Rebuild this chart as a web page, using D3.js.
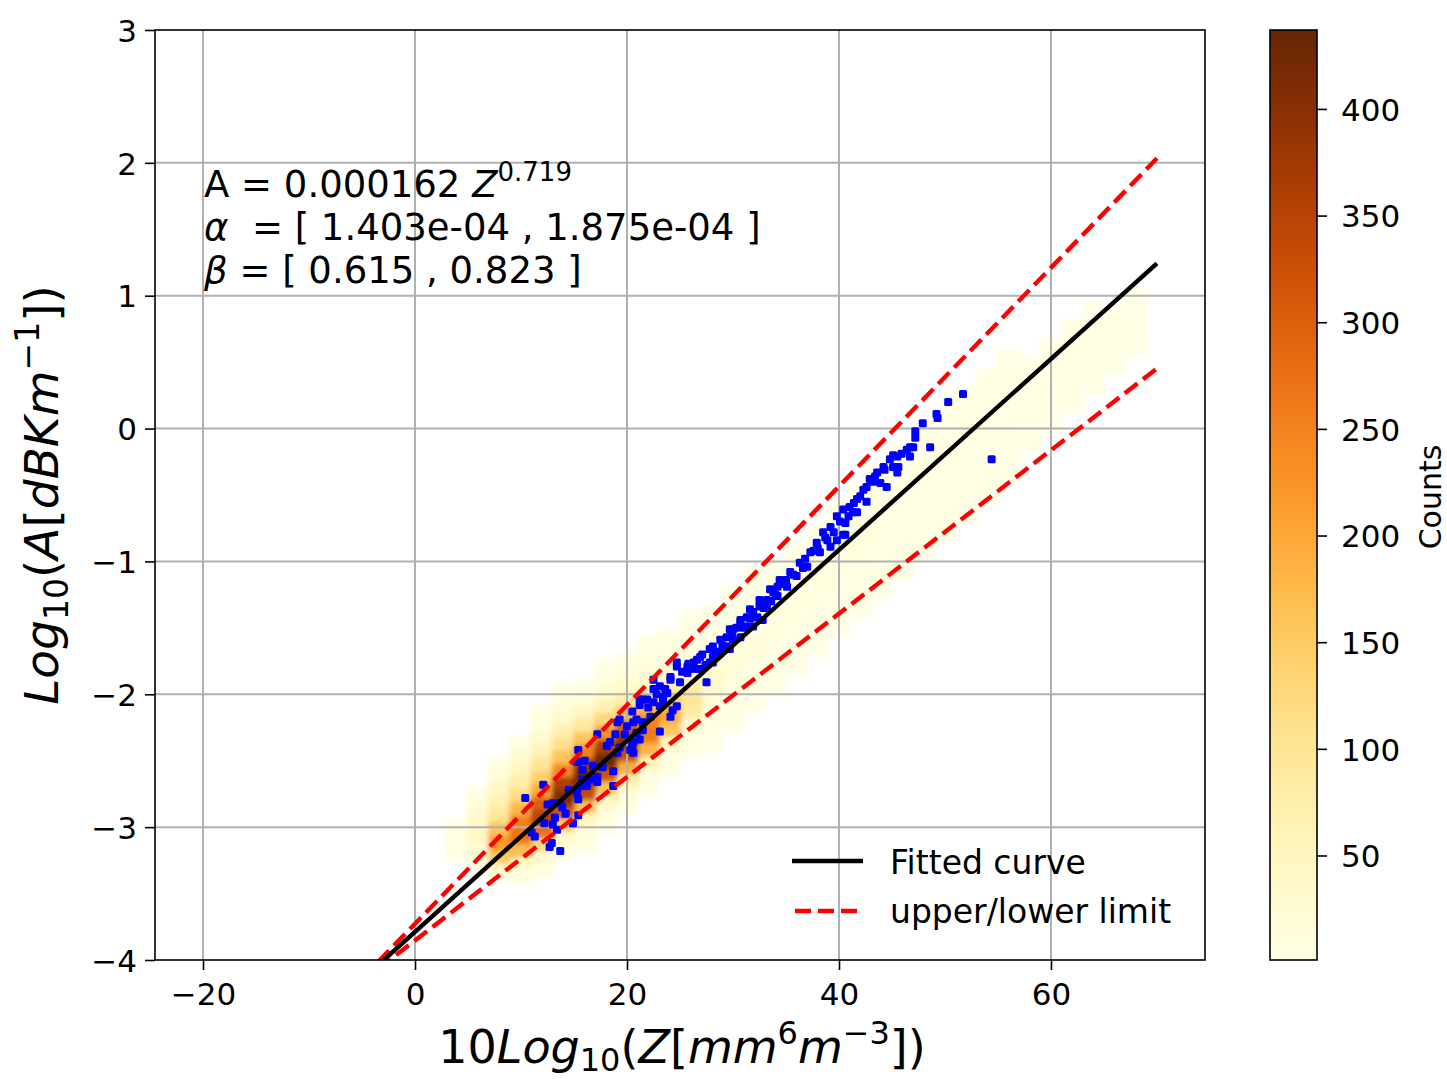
<!DOCTYPE html>
<html>
<head>
<meta charset="utf-8">
<script src="https://cdn.jsdelivr.net/npm/d3@7"></script>
<style>
  body { margin: 0; background: #fff; }
  text { font-family: "DejaVu Sans", sans-serif; fill: #000; white-space: pre; }
</style>
</head>
<body>
<div id="chart"></div>
<script>
// ---- data ----
const xTicks = [-20, 0, 20, 40, 60];
const yTicks = [-4, -3, -2, -1, 0, 1, 2, 3];
const countTicks = [50, 100, 150, 200, 250, 300, 350, 400];
const countRange = [1, 437];

// 2d histogram, one column per x, cells stacked upward every 0.1 from y0
const densX  = [4, 6, 8, 10, 12, 14, 16, 18, 20, 22, 24, 26, 28, 30, 32, 34, 36, 38, 40, 42, 44, 46, 48, 50, 52, 54, 56, 58, 60, 62, 64, 66, 68];
const densY0 = [-3.20, -3.26, -3.32, -3.37, -3.33, -3.18, -3.14, -3.00, -2.85, -2.71, -2.56, -2.42, -2.38, -2.23, -2.09, -1.95, -1.80, -1.66, -1.51, -1.37, -1.23, -1.08, -0.94, -0.80, -0.65, -0.51, -0.36, -0.12, 0.02, 0.17, 0.31, 0.46, 0.60];
const densCounts = [
  [4, 8, 4],
  [8, 25, 45, 40, 25, 10],
  [40, 150, 220, 160, 100, 70, 45, 20, 6],
  [8, 40, 170, 270, 250, 180, 120, 80, 50, 25, 8],
  [5, 25, 120, 270, 350, 300, 200, 140, 100, 60, 30, 10, 3],
  [6, 30, 140, 320, 410, 360, 240, 160, 110, 70, 35, 12, 3],
  [4, 12, 50, 170, 340, 420, 380, 250, 160, 90, 45, 15, 4],
  [4, 12, 50, 160, 320, 430, 360, 230, 130, 70, 30, 10, 3],
  [4, 18, 70, 190, 330, 400, 300, 160, 80, 35, 12, 4],
  [3, 12, 60, 180, 260, 250, 180, 80, 30, 12, 5, 2],
  [3, 10, 50, 160, 200, 150, 80, 30, 12, 5, 2],
  [3, 8, 30, 90, 100, 70, 35, 15, 6, 3, 1],
  [1, 3, 6, 15, 30, 35, 25, 10, 5, 2, 1],
  [1, 2, 5, 10, 18, 20, 15, 7, 3, 2, 1],
  [1, 2, 4, 8, 12, 14, 10, 5, 2, 1, 1],
  [1, 2, 3, 5, 8, 9, 7, 4, 2, 1],
  [1, 2, 3, 5, 8, 9, 7, 4, 2, 1],
  [1, 2, 3, 5, 8, 9, 7, 4, 2, 1],
  [1, 2, 3, 5, 8, 9, 7, 4, 2, 1],
  [1, 2, 3, 5, 8, 9, 7, 4, 2, 1],
  [1, 2, 3, 5, 8, 9, 7, 4, 2, 1],
  [1, 2, 3, 4, 5, 5, 4, 3, 2, 1],
  [1, 2, 3, 4, 5, 5, 4, 3, 2, 1],
  [1, 2, 3, 4, 5, 5, 4, 3, 2, 1],
  [1, 2, 3, 4, 5, 5, 4, 3, 2, 1],
  [1, 2, 3, 4, 5, 5, 4, 3, 2, 1],
  [1, 2, 3, 4, 5, 5, 4, 3, 2, 1],
  [1, 2, 3, 3, 3, 2, 1],
  [1, 2, 3, 3, 3, 2, 1],
  [1, 2, 3, 3, 3, 2, 1],
  [1, 2, 3, 3, 3, 2, 1],
  [1, 2, 2, 2, 1],
  [1, 2, 2, 2, 1]
];

// blue points [x, y]
const bluePts = [
  [10.4,-2.78],[12.1,-2.68],[12.5,-2.83],[13.0,-2.82],[13.7,-2.82],[13.2,-2.93],[13.9,-2.85],[11.0,-3.04],[11.3,-3.07],
  [13.0,-2.98],[13.4,-3.02],[12.9,-3.12],[13.7,-3.18],[12.7,-3.15],[14.9,-2.97],[15.4,-2.91],[15.4,-2.79],[15.3,-2.74],
  [15.6,-2.69],[15.8,-2.64],[16.2,-2.69],[16.5,-2.64],[17.2,-2.62],[16.8,-2.54],[15.3,-2.51],[15.4,-2.42],[17.2,-2.30],
  [18.1,-2.39],[18.4,-2.36],[17.7,-2.55],[18.7,-2.58],[19.1,-2.44],[19.3,-2.40],[18.7,-2.69],[17.2,-2.66],[15.8,-2.57],
  [19.1,-2.21],[20.5,-2.13],[20.6,-2.21],[20.5,-2.39],[20.6,-2.44],[20.9,-2.29],[21.5,-2.04],[21.2,-2.34],
  [24.7,-1.76],[25.7,-1.84],[25.0,-1.91],[24.1,-1.89],[23.1,-1.94],[22.5,-1.96],[23.8,-1.99],[21.9,-2.04],[21.2,-2.08],
  [22.5,-2.06],[23.4,-2.06],[24.3,-2.12],[24.1,-2.17],[20.9,-2.19],[22.2,-2.17],[23.1,-2.28],[21.5,-2.27],[20.6,-2.36],
  [20.3,-2.42],[27.5,-1.91],[26.9,-1.81],[28.1,-1.76],[28.8,-1.69],[26.6,-1.74],[29.7,-1.66],
  [24.7,-1.79],[25.7,-1.79],[26.9,-1.72],[28.1,-1.64],[28.8,-1.59],[29.4,-1.57],[30.0,-1.51],[30.7,-1.46],[31.3,-1.42],
  [31.9,-1.38],[32.5,-1.34],[33.2,-1.29],[33.8,-1.23],[34.2,-1.19],[27.8,-1.76],[29.4,-1.64],[30.7,-1.57],[31.9,-1.49],
  [32.8,-1.44],[22.5,-1.89],[24.1,-1.87],[23.4,-2.02],[24.7,-2.09],[21.2,-2.04],[23.1,-2.09],[21.5,-2.21],[19.3,-2.19],
  [20.0,-2.24],
  [25.9,-1.81],[27.8,-1.66],[29.7,-1.51],[30.7,-1.44],[31.6,-1.36],[32.5,-1.29],[33.5,-1.21],[34.4,-1.14],[35.4,-1.08],
  [36.3,-1.01],[37.3,-0.93],[37.9,-0.86],[38.5,-0.78],[39.2,-0.74],[39.8,-0.66],[40.4,-0.61],[41.0,-0.59],[41.7,-0.53],
  [42.3,-0.46],[42.9,-0.38],[43.6,-0.33],[44.2,-0.29],[44.8,-0.23],[45.5,-0.21],[46.4,-0.16],[47.0,-0.14],[44.5,-0.44],
  [45.5,-0.33],[42.6,-0.55],[40.4,-0.80],[38.9,-0.84],[39.8,-0.84],[41.3,-0.63],[28.1,-1.72],[30.0,-1.59],[31.3,-1.49],
  [32.3,-1.42],[33.2,-1.34],[34.2,-1.26],[35.1,-1.19],[36.0,-1.11],[37.0,-1.04],[38.2,-0.93],[39.2,-0.89],[26.6,-1.81],
  [43.9,-0.41],[45.1,-0.29],
  [51.7,0.26],[50.3,0.20],[49.2,0.11],[49.3,0.08],[47.9,0.04],[47.2,-0.02],[47.2,-0.07],[46.7,-0.14],[48.6,-0.14],
  [46.7,-0.21],[45.9,-0.19],[45.6,-0.29],[41.7,-0.63],[40.6,-0.71],[40.6,-0.80],[54.4,-0.23],[45.1,-0.20],[44.3,-0.31],
  [25.2,-1.83],[25.8,-1.77],[26.3,-1.76],[27.1,-1.70],[27.4,-1.78],[28.4,-1.68],[29.0,-1.63],[29.9,-1.56],[30.3,-1.50],
  [31.0,-1.50],[31.6,-1.43],[32.0,-1.42],[32.9,-1.35],[33.6,-1.30],[34.0,-1.25],[34.7,-1.17],[35.0,-1.14],[35.7,-1.10],
  [36.6,-1.05],[36.8,-0.98],[37.6,-0.92],[38.0,-0.90],[38.7,-0.82],[39.5,-0.78],[40.1,-0.70],[40.9,-0.66],[41.4,-0.56],
  [42.0,-0.51],[42.6,-0.44],[43.2,-0.40],[43.4,-0.36],[23.6,-1.96],[22.8,-2.00],[22.0,-2.10],[19.8,-2.30],[18.9,-2.30],
  [16.0,-2.50],[14.5,-2.72],[14.2,-2.90],[12.2,-2.97]
];

// line end points [x, y]
const fittedLine = [[-3.5, -4.04], [70, 1.243]];
const upperLine = [[-3.5, -4.015], [70, 2.034]];
const lowerLine = [[-3.5, -4.068], [70, 0.452]];

const W = 1447, H = 1079;
const plot = { left: 155, right: 1205, top: 30, bottom: 960 };
const cbar = { left: 1270, right: 1317 };

const svg = d3.select('#chart').append('svg')
  .attr('width', W)
  .attr('height', H);

const x = d3.scaleLinear().domain([-24.53, 74.53]).range([plot.left, plot.right]);
const y = d3.scaleLinear().domain([-4, 3]).range([plot.bottom, plot.top]);
const color = d3.scaleSequential(d3.interpolateYlOrBr).domain(countRange);
const fmt = d => d < 0 ? '\u2212' + Math.abs(d) : String(d);

const defs = svg.append('defs');
defs.append('clipPath').attr('id', 'clip')
  .append('rect')
  .attr('x', plot.left).attr('y', plot.top)
  .attr('width', plot.right - plot.left).attr('height', plot.bottom - plot.top);
defs.append('filter').attr('id', 'soft')
  .attr('x', '-10%').attr('y', '-10%').attr('width', '120%').attr('height', '120%')
  .append('feGaussianBlur').attr('stdDeviation', 2.6);

// heatmap cells
const cells = [];
densX.forEach((cx, j) => {
  densCounts[j].forEach((c, i) => {
    cells.push({ x: cx, y: densY0[j] + i * 0.1, c: c });
  });
});
cells.sort((a, b) => a.c - b.c);

const cw = x(2) - x(0);
const ch = y(0) - y(0.1);
svg.append('g')
  .attr('clip-path', 'url(#clip)')
  .attr('filter', 'url(#soft)')
  .selectAll('rect')
  .data(cells)
  .enter()
  .append('rect')
  .attr('x', d => x(d.x) - cw / 2 - 1)
  .attr('y', d => y(d.y) - ch / 2 - 1)
  .attr('width', cw + 2)
  .attr('height', ch + 2)
  .style('fill', d => color(d.c));

// grid
const grid = svg.append('g').attr('stroke', '#b0b0b0').attr('stroke-width', 2);
grid.selectAll('.gx').data(xTicks).enter().append('line')
  .attr('x1', d => x(d)).attr('x2', d => x(d))
  .attr('y1', plot.top).attr('y2', plot.bottom);
grid.selectAll('.gy').data(yTicks.slice(1, -1)).enter().append('line')
  .attr('x1', plot.left).attr('x2', plot.right)
  .attr('y1', d => y(d)).attr('y2', d => y(d));

// blue points
svg.append('g')
  .attr('clip-path', 'url(#clip)')
  .selectAll('rect')
  .data(bluePts)
  .enter()
  .append('rect')
  .attr('x', d => x(d[0]) - 4)
  .attr('y', d => y(d[1]) - 4)
  .attr('width', 8)
  .attr('height', 8)
  .attr('rx', 1.5)
  .style('fill', '#0000ff');

// fit lines
const line = d3.line().x(d => x(d[0])).y(d => y(d[1]));
const lines = svg.append('g').attr('clip-path', 'url(#clip)').attr('fill', 'none');
lines.append('path').attr('d', line(upperLine))
  .attr('stroke', '#ff0000').attr('stroke-width', 4.4).attr('stroke-dasharray', '16,7');
lines.append('path').attr('d', line(lowerLine))
  .attr('stroke', '#ff0000').attr('stroke-width', 4.4).attr('stroke-dasharray', '16,7');
lines.append('path').attr('d', line(fittedLine))
  .attr('stroke', '#000').attr('stroke-width', 4.4);

// frame
svg.append('rect')
  .attr('x', plot.left).attr('y', plot.top)
  .attr('width', plot.right - plot.left).attr('height', plot.bottom - plot.top)
  .attr('fill', 'none').attr('stroke', '#000').attr('stroke-width', 1.6);

// axes
const xAxis = svg.append('g')
  .attr('transform', `translate(0,${plot.bottom})`)
  .call(d3.axisBottom(x).tickValues(xTicks).tickSize(10).tickPadding(6).tickFormat(fmt));
const yAxis = svg.append('g')
  .attr('transform', `translate(${plot.left},0)`)
  .call(d3.axisLeft(y).tickValues(yTicks).tickSize(10).tickPadding(8).tickFormat(fmt));
[xAxis, yAxis].forEach(a => {
  a.select('.domain').remove();
  a.selectAll('line').attr('stroke', '#000').attr('stroke-width', 1.6);
  a.selectAll('text').style('font-size', '31px').style('font-family', '"DejaVu Sans", sans-serif');
});
xAxis.selectAll('text').attr('dy', '0.95em');
yAxis.selectAll('text').attr('dy', '0.36em');

// axis labels
const xl = svg.append('text')
  .attr('x', 682).attr('y', 1063)
  .attr('text-anchor', 'middle')
  .style('font-size', '46px');
xl.append('tspan').text('10');
xl.append('tspan').style('font-style', 'italic').text('Log');
xl.append('tspan').attr('dy', 8).style('font-size', '32px').text('10');
xl.append('tspan').attr('dy', -8).text('(');
xl.append('tspan').style('font-style', 'italic').text('Z');
xl.append('tspan').text('[');
xl.append('tspan').style('font-style', 'italic').text('mm');
xl.append('tspan').attr('dy', -19).style('font-size', '32px').text('6');
xl.append('tspan').attr('dy', 19).style('font-style', 'italic').text('m');
xl.append('tspan').attr('dy', -19).style('font-size', '32px').text('\u22123');
xl.append('tspan').attr('dy', 19).text('])');

const yl = svg.append('text')
  .attr('transform', 'translate(58,495) rotate(-90)')
  .attr('text-anchor', 'middle')
  .style('font-size', '47px');
yl.append('tspan').style('font-style', 'italic').text('Log');
yl.append('tspan').attr('dy', 10).style('font-size', '33px').text('10');
yl.append('tspan').attr('dy', -10).text('(');
yl.append('tspan').style('font-style', 'italic').text('A');
yl.append('tspan').text('[');
yl.append('tspan').style('font-style', 'italic').text('dBKm');
yl.append('tspan').attr('dy', -19).style('font-size', '33px').text('\u22121');
yl.append('tspan').attr('dy', 19).text('])');

// fit annotation
const ann = svg.append('g').style('font-size', '37px');
const a1 = ann.append('text').attr('x', 204).attr('y', 197);
a1.append('tspan').text('A = 0.000162 ');
a1.append('tspan').style('font-style', 'italic').text('Z');
a1.append('tspan').attr('dy', -16).style('font-size', '26px').text('0.719');
const a2 = ann.append('text').attr('x', 204).attr('y', 240);
a2.append('tspan').style('font-style', 'italic').text('\u03b1');
a2.append('tspan').text('  = [ 1.403e-04 , 1.875e-04 ]');
const a3 = ann.append('text').attr('x', 204).attr('y', 283);
a3.append('tspan').style('font-style', 'italic').text('\u03b2');
a3.append('tspan').text(' = [ 0.615 , 0.823 ]');

// legend
const legend = svg.append('g').attr('class', 'legend');
legend.append('line')
  .attr('x1', 792).attr('x2', 863).attr('y1', 861).attr('y2', 861)
  .attr('stroke', '#000').attr('stroke-width', 4.4);
legend.append('line')
  .attr('x1', 795).attr('x2', 862).attr('y1', 911).attr('y2', 911)
  .attr('stroke', '#ff0000').attr('stroke-width', 4.4).attr('stroke-dasharray', '16,7');
legend.append('text').attr('x', 890).attr('y', 874).style('font-size', '33px').text('Fitted curve');
legend.append('text').attr('x', 890).attr('y', 923).style('font-size', '33px').text('upper/lower limit');

// colorbar
const cy = d3.scaleLinear().domain(countRange).range([plot.bottom, plot.top]);
const grad = defs.append('linearGradient').attr('id', 'cgrad')
  .attr('x1', 0).attr('y1', 1).attr('x2', 0).attr('y2', 0);
d3.range(0, 1.0001, 0.05).forEach(t => {
  grad.append('stop').attr('offset', t).attr('stop-color', d3.interpolateYlOrBr(t));
});
svg.append('rect')
  .attr('x', cbar.left).attr('y', plot.top)
  .attr('width', cbar.right - cbar.left).attr('height', plot.bottom - plot.top)
  .attr('fill', 'url(#cgrad)')
  .attr('stroke', '#000').attr('stroke-width', 1.6);
const cAxis = svg.append('g')
  .attr('transform', `translate(${cbar.right},0)`)
  .call(d3.axisRight(cy).tickValues(countTicks).tickSize(10).tickPadding(14));
cAxis.select('.domain').remove();
cAxis.selectAll('line').attr('stroke', '#000').attr('stroke-width', 1.6);
cAxis.selectAll('text').style('font-size', '31px').style('font-family', '"DejaVu Sans", sans-serif').attr('dy', '0.36em');

svg.append('text')
  .attr('transform', 'translate(1441,497) rotate(-90)')
  .attr('text-anchor', 'middle')
  .style('font-size', '30px')
  .text('Counts');
</script>
</body>
</html>
